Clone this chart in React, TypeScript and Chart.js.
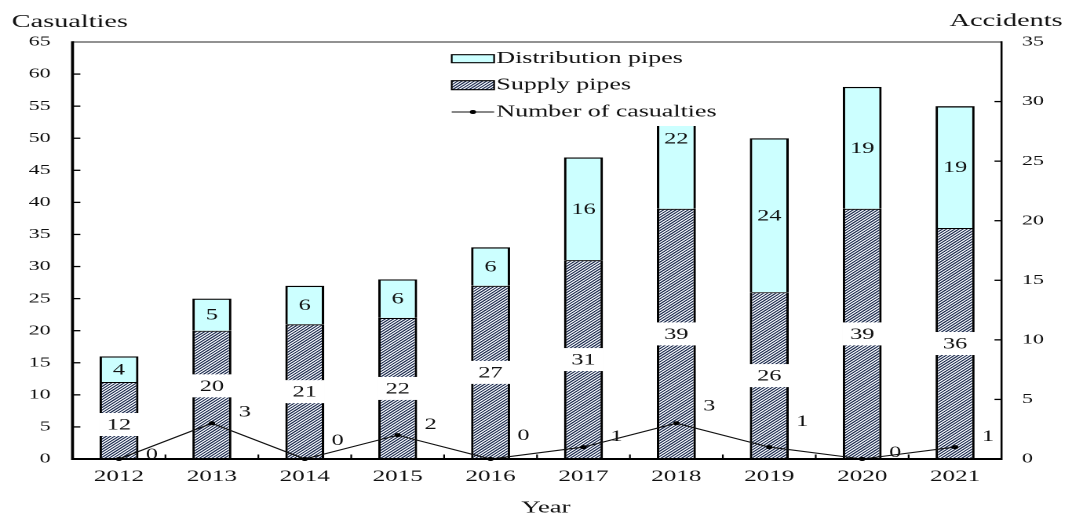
import React, { useEffect, useRef } from 'react';
import { Chart, registerables } from 'chart.js';

Chart.register(...registerables);

// ---------- data ----------
const years = ['2012', '2013', '2014', '2015', '2016', '2017', '2018', '2019', '2020', '2021'];
const supplyPipes = [12, 20, 21, 22, 27, 31, 39, 26, 39, 36];
const distributionPipes = [4, 5, 6, 6, 6, 16, 22, 24, 19, 19];
const casualties = [0, 3, 0, 2, 0, 1, 3, 1, 0, 1];
const leftAxisMax = 65;
const rightAxisMax = 35;
const tickStep = 5;
// label nudges (pixels) as seen in the original
const supplyLabelDy = [4, -9, 0, 0, 0, 0, 0, 0, 0, 0];
const casualtyLabelDy = [-4, -11, -18, -10, -23, -10, -17, -25, -6, -10];

// ---------- layout ----------
const W = 683;
const H = 516;
const SX = 1072 / W;
const FONT = "'Liberation Serif', 'Times New Roman', serif";
const CYAN = '#ccffff';

function makeHatch(): CanvasPattern | string {
  const r = 8;
  const size = 2.6;
  const c = document.createElement('canvas');
  c.width = c.height = Math.round(size * r);
  const g = c.getContext('2d');
  if (!g) return '#3a4560';
  const s = c.width;
  g.fillStyle = '#f4f7fb';
  g.fillRect(0, 0, s, s);
  g.strokeStyle = '#1a284b';
  g.lineWidth = 0.9 * r;
  g.lineCap = 'butt';
  g.beginPath();
  g.moveTo(-s, s); g.lineTo(s, -s);
  g.moveTo(0, s * 1); g.lineTo(s * 1, 0);
  g.moveTo(0, s * 2); g.lineTo(s * 2, 0);
  g.stroke();
  const p = g.createPattern(c, 'repeat');
  if (!p) return '#3a4560';
  p.setTransform(new DOMMatrix([1 / r, 0, 0, 1 / r, 0, 0]));
  return p;
}

export default function App() {
  const ref = useRef<HTMLCanvasElement | null>(null);

  useEffect(() => {
    document.body.style.margin = '0';
    const canvas = ref.current;
    if (!canvas) return;
    const hatch = makeHatch();

    const seg = (ctx: CanvasRenderingContext2D, x1: number, y1: number, x2: number, y2: number) => {
      ctx.beginPath();
      ctx.moveTo(x1, y1);
      ctx.lineTo(x2, y2);
      ctx.stroke();
    };

    const overlay = {
      id: 'overlay',
      afterDatasetsDraw(chart: any) {
        const ctx: CanvasRenderingContext2D = chart.ctx;
        const { left, right, top, bottom } = chart.chartArea;
        const xs = chart.scales.x;
        const ys = chart.scales.y;
        const ys1 = chart.scales.y1;
        ctx.save();

        // frame
        ctx.lineCap = 'butt';
        ctx.strokeStyle = '#6e6e6e';
        ctx.lineWidth = 1.4;
        seg(ctx, left, top, right, top);
        ctx.strokeStyle = '#000';
        ctx.lineWidth = 1.9;
        seg(ctx, left, top - 0.7, left, bottom + 1);
        ctx.lineWidth = 2;
        seg(ctx, left, bottom, right, bottom);
        ctx.lineWidth = 1.3;
        seg(ctx, right, top - 0.7, right, bottom + 1);

        // inward ticks
        ctx.lineWidth = 1.3;
        ys.ticks.forEach((t: any) => {
          if (t.value <= 0 || t.value >= leftAxisMax) return;
          const py = ys.getPixelForValue(t.value);
          seg(ctx, left, py, left + 5, py);
        });
        ys1.ticks.forEach((t: any) => {
          if (t.value <= 0 || t.value >= rightAxisMax) return;
          const py = ys1.getPixelForValue(t.value);
          seg(ctx, right - 4.5, py, right, py);
        });
        ctx.lineWidth = 1.1;
        for (let i = 1; i < years.length; i++) {
          const bx = (xs.getPixelForValue(i - 1) + xs.getPixelForValue(i)) / 2;
          seg(ctx, bx, bottom, bx, bottom - 4.5);
        }

        // data labels
        ctx.font = `15.5px ${FONT}`;
        ctx.textAlign = 'center';
        ctx.textBaseline = 'middle';
        const metaS = chart.getDatasetMeta(0);
        const metaD = chart.getDatasetMeta(1);
        const metaL = chart.getDatasetMeta(2);
        metaS.data.forEach((bar: any, i: number) => {
          const p = bar.getProps(['x', 'y', 'base', 'width'], true);
          const cy = (p.y + p.base) / 2 + supplyLabelDy[i];
          ctx.fillStyle = '#ffffff';
          ctx.fillRect(p.x - p.width / 2 - 0.3, cy - 11.5, p.width + 0.6, 23);
          ctx.fillStyle = '#111';
          ctx.fillText(String(supplyPipes[i]), p.x, cy + 1);
        });
        metaD.data.forEach((bar: any, i: number) => {
          const p = bar.getProps(['x', 'y', 'base'], true);
          const cy = (p.y + p.base) / 2;
          ctx.fillStyle = '#111';
          ctx.fillText(String(distributionPipes[i]), p.x, cy + 1);
        });
        metaL.data.forEach((pt: any, i: number) => {
          const p = pt.getProps(['x', 'y'], true);
          ctx.fillStyle = '#111';
          ctx.fillText(String(casualties[i]), p.x + 21, p.y + casualtyLabelDy[i]);
        });

        // legend (white box over the plot)
        const lx = 286;
        ctx.fillStyle = '#ffffff';
        ctx.fillRect(lx, top + 1, 173, 126 - top - 1);
        const sw = 27;
        const sx0 = lx + 1.8;
        const rows = [58.7, 85.2, 112];
        // distribution swatch
        ctx.fillStyle = CYAN;
        ctx.fillRect(sx0, rows[0] - 4, sw, 8);
        ctx.strokeStyle = '#000';
        ctx.lineWidth = 1.1;
        ctx.strokeRect(sx0, rows[0] - 4, sw, 8);
        // supply swatch
        ctx.fillStyle = hatch as any;
        ctx.fillRect(sx0, rows[1] - 4.5, sw, 9);
        ctx.strokeRect(sx0, rows[1] - 4.5, sw, 9);
        // line swatch
        ctx.lineWidth = 1.1;
        ctx.strokeStyle = '#111';
        seg(ctx, sx0, rows[2], sx0 + sw, rows[2]);
        ctx.fillStyle = '#000';
        ctx.beginPath();
        ctx.arc(sx0 + sw / 2, rows[2], 2, 0, Math.PI * 2);
        ctx.fill();
        ctx.font = `16.5px ${FONT}`;
        ctx.textAlign = 'left';
        ctx.textBaseline = 'middle';
        ctx.fillStyle = '#111';
        ctx.fillText('Distribution pipes', sx0 + sw + 1.5, rows[0]);
        ctx.fillText('Supply pipes', sx0 + sw + 1.5, rows[1]);
        ctx.fillText('Number of casualties', sx0 + sw + 1.5, rows[2]);

        // axis titles
        ctx.textBaseline = 'alphabetic';
        ctx.font = `18px ${FONT}`;
        ctx.textAlign = 'left';
        ctx.fillText('Casualties', 7.5, 27);
        ctx.textAlign = 'right';
        ctx.fillText('Accidents', 677, 26);
        ctx.font = `17px ${FONT}`;
        ctx.textAlign = 'center';
        ctx.fillText('Year', 347.8, 512.5);

        ctx.restore();
      },
    };

    const chart = new Chart(canvas, {
      type: 'bar',
      data: {
        labels: years,
        datasets: [
          {
            type: 'bar',
            label: 'Supply pipes',
            data: supplyPipes,
            backgroundColor: hatch as any,
            borderColor: '#000',
            borderWidth: { top: 1.1, left: 1.6, right: 1.6, bottom: 0 } as any,
            borderSkipped: 'bottom',
            barPercentage: 0.42,
            categoryPercentage: 1,
            yAxisID: 'y',
            stack: 's',
            order: 2,
          },
          {
            type: 'bar',
            label: 'Distribution pipes',
            data: distributionPipes,
            backgroundColor: CYAN,
            borderColor: '#000',
            borderWidth: { top: 1.3, left: 1.6, right: 1.6, bottom: 0 } as any,
            borderSkipped: 'bottom',
            barPercentage: 0.42,
            categoryPercentage: 1,
            yAxisID: 'y',
            stack: 's',
            order: 2,
          },
          {
            type: 'line',
            label: 'Number of casualties',
            data: casualties,
            yAxisID: 'y1',
            borderColor: '#111',
            borderWidth: 1.1,
            pointRadius: 2,
            pointBackgroundColor: '#000',
            pointBorderWidth: 0,
            tension: 0,
            clip: false as any,
            order: 1,
          } as any,
        ],
      },
      options: {
        animation: false,
        responsive: false,
        devicePixelRatio: 2,
        layout: { padding: { top: 42, left: 0, right: 0, bottom: 0 } },
        plugins: {
          legend: { display: false },
          tooltip: { enabled: false },
        },
        scales: {
          x: {
            stacked: true,
            grid: { display: false, drawTicks: false },
            border: { display: false },
            ticks: {
              color: '#111',
              font: { family: FONT, size: 16 },
              padding: 8,
              maxRotation: 0,
              autoSkip: false,
            },
            afterFit: (s: any) => { s.height = 57; },
          },
          y: {
            stacked: true,
            position: 'left',
            min: 0,
            max: leftAxisMax,
            grid: { display: false, drawTicks: false },
            border: { display: false },
            ticks: {
              stepSize: tickStep,
              color: '#111',
              font: { family: FONT, size: 14 },
              padding: 14,
            },
            afterFit: (s: any) => { s.width = 46.2; },
          },
          y1: {
            position: 'right',
            min: 0,
            max: rightAxisMax,
            grid: { display: false, drawTicks: false },
            border: { display: false },
            ticks: {
              stepSize: tickStep,
              color: '#111',
              font: { family: FONT, size: 14 },
              padding: 13,
            },
            afterFit: (s: any) => { s.width = 44.9; },
          },
        },
      },
      plugins: [overlay],
    });

    return () => chart.destroy();
  }, []);

  return (
    <div style={{ width: 1072, height: H, overflow: 'hidden', position: 'relative', background: '#fff' }}>
      <div style={{ width: W, height: H, transform: `scaleX(${SX})`, transformOrigin: '0 0' }}>
        <canvas ref={ref} width={W} height={H} style={{ display: 'block', width: W, height: H }} />
      </div>
    </div>
  );
}
